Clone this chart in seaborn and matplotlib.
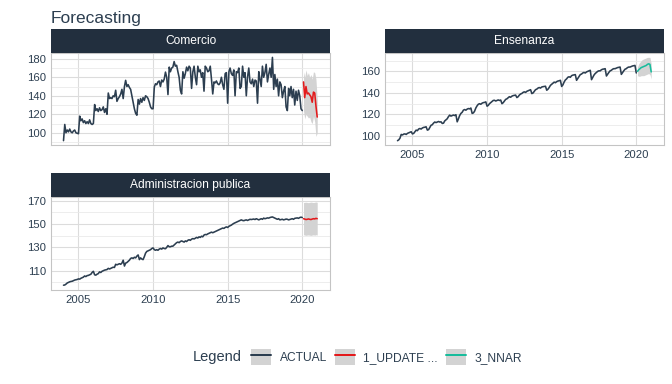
import numpy as np
import pandas as pd
import seaborn as sns
import matplotlib.pyplot as plt
import matplotlib.dates as mdates
from matplotlib.patches import Rectangle
from matplotlib.lines import Line2D
from matplotlib.legend_handler import HandlerTuple

# monthly actuals 2004-01 .. 2020-01
comercio_actual = [
    91.5, 109, 100, 103, 101, 104, 101, 100, 102, 103, 100, 99.5,
    99, 118, 113, 115, 111, 113, 110, 112, 110, 114, 110, 109,
    110, 130.5, 124, 126, 123, 127, 124, 125, 128, 122, 126, 120,
    143, 137, 138, 137, 140, 139, 146, 134, 137, 139, 142, 147,
    137, 150, 156.7, 150, 152, 149, 147, 140, 133, 126, 121, 119,
    136, 131, 137, 133, 138, 135, 140, 139, 137, 133, 128, 126,
    126, 149.5, 153, 152, 155, 156, 150, 157, 155, 158, 165.6, 160,
    141.3, 171, 166, 170, 171, 177, 172, 173, 166, 160, 146, 142,
    166, 159, 164, 171, 167, 172, 170, 148, 166, 172, 160, 152,
    172, 166, 168, 160, 165, 145, 172, 170, 166, 167, 172, 158,
    142, 155, 154, 156, 153, 152, 154, 160, 152, 147, 164, 165,
    132, 166, 170, 164, 162, 168, 140, 166, 165, 170, 148, 150,
    172, 160, 165, 140, 160, 170, 155, 153, 158, 150, 157, 156,
    132, 166, 158, 150, 172, 160, 165, 174, 155, 163, 170, 160,
    181.5, 147, 163, 150, 158, 140, 155, 152, 138, 145, 150, 128,
    124, 148, 140, 150, 138, 147, 130, 145, 135, 146, 140, 126,
    124,
]
ensenanza_actual = [
    95.7, 96.5, 98, 101.5, 101, 101.8, 102, 101.5, 102.5, 103, 103.5, 104,
    102, 102.5, 104, 105.5, 105, 106.5, 107, 106.5, 107.5, 108, 108.2, 108.6,
    105.5, 106, 108, 110, 110.5, 112, 113, 112.5, 113, 113.5, 113, 113.2,
    111.7, 112, 114, 115, 116, 118, 119.4, 118.5, 119, 119.5, 119, 119.8,
    113.2, 116, 119, 121, 122, 124, 124.6, 124, 125, 125.5, 125.2, 126,
    121, 121.5, 123, 126, 128, 129.5, 130, 129.5, 130.5, 131, 131.2, 131.7,
    127.7, 128.5, 130, 131, 132, 133, 133.2, 132.5, 133, 133.5, 133, 133.4,
    130, 131, 132.5, 134, 134.5, 135.5, 136.5, 136, 137, 137.5, 137.8, 138,
    135.7, 136.5, 138, 139, 139.5, 140.5, 141, 140.5, 141.5, 142, 142.5, 143,
    139.4, 140, 141.5, 143, 143.5, 144.5, 145, 144.5, 145.5, 145.8, 146, 146.2,
    142.5, 143.5, 145, 147, 148, 149, 150, 149.5, 150.5, 151, 151.3, 151.7,
    146, 147.5, 150, 152, 153, 154.5, 155, 154.5, 156, 156.5, 156.8, 157,
    151.7, 153.5, 155, 157, 157.5, 158.5, 159, 158.5, 159.5, 160, 160.5, 161,
    152.3, 154.5, 156.5, 158, 159, 160, 160.5, 160.5, 161.5, 162, 162.2, 162.5,
    155.7, 157.5, 159, 160.5, 161, 162, 162.5, 162.5, 163, 163.5, 163.8, 164,
    157.2, 159, 160.5, 162, 162.5, 163.5, 164, 164, 164.5, 165, 165.3, 165.5,
    158.5,
]
admin_actual = [
    97.6, 97.8, 98.5, 99.5, 100, 100.5, 100.8, 101, 101.5, 102, 102.3, 102.5,
    103, 102.8, 103.5, 104, 104.5, 105.5, 105, 105.8, 106, 106.5, 107, 108.5,
    109.5, 106.5, 106.2, 107, 107.5, 109, 108.5, 109.5, 110, 110.5, 110.8, 111,
    112, 111.5, 112, 112.5, 113, 112.8, 115.5, 115, 115.5, 116, 115.5, 116.5,
    119, 114, 116.5, 117, 118, 119, 120.5, 121, 120.5, 121.5, 121, 122.5,
    123.5, 119.5, 121, 120, 119.5, 122, 125, 126.5, 127, 127.5, 128, 129,
    129.5, 128, 127.5, 128, 127.5, 128.5, 129, 128.5, 129.5, 129, 128.8, 130,
    131.5, 130.5, 130.5, 131, 131, 132, 133, 134, 134.5, 134, 135, 135.5,
    135, 134.5, 135.5, 135, 136, 136.5, 136, 137, 137.5, 137.2, 137.8, 138.5,
    138, 139, 138.5, 139.5, 139, 140.5, 141, 140.8, 141.5, 142, 142.5, 143,
    142.5, 143, 143.5, 144, 144.5, 145, 145.5, 146, 146.5, 146.2, 147, 147.5,
    147, 148, 148.5, 149, 149.8, 150.5, 151, 151.5, 152, 152.5, 153, 153.5,
    153, 152.8, 153.2, 153.5, 153, 153.5, 154, 153.8, 154, 154.2, 153.8, 154.5,
    154, 153.5, 154, 154.5, 154, 155, 154.5, 154.8, 155.2, 155, 155.5, 155.8,
    156, 155.5, 155, 154.5, 154, 154.5, 153.5, 153.8, 154, 153.5, 153.8, 154.2,
    154, 153.5, 153.8, 154.2, 154.5, 154, 154.8, 155, 155.2, 154.8, 155.5, 155.8,
    155.5,
]

# forecasts 2020-02 .. 2021-01
comercio_fc = [155, 138, 150, 142, 143, 141, 139, 133, 144, 143, 129, 117]
comercio_lo = [124, 115, 120, 118, 116, 117, 112, 110, 118, 112, 96, 100]
comercio_hi = [166, 160, 168, 162, 165, 160, 163, 158, 166, 165, 158, 136]
ensenanza_fc = [160, 161.5, 162.5, 163.5, 164, 164.5, 165, 165.5, 166.5, 167, 166.5, 159.5]
ensenanza_lo = [156, 155.5, 155.5, 156, 156, 156, 156.5, 157, 157.5, 158, 157, 153]
ensenanza_hi = [164, 167, 168.5, 170, 171, 171.5, 172, 172.5, 173, 173, 173, 167]
admin_fc = [154.5, 154.2, 153.8, 154, 154.3, 154, 153.8, 154.2, 154.5, 154.3, 154.8, 154.5]
admin_lo = [140.8, 140.5, 140.3, 140.5, 140.6, 140.4, 140.2, 140.5, 140.7, 140.4, 140.8, 140.5]
admin_hi = [168.3, 168.5, 168.6, 168.4, 168.2, 168.5, 168.7, 168.5, 168.3, 168.6, 168.8, 168.5]

keys = ["ACTUAL", "1_UPDATE ...", "3_NNAR"]
colors = ["#2c3e50", "#e31a1c", "#18bc9c"]
pal = dict(zip(keys, colors))

dates_actual = pd.date_range("2004-01-01", "2020-01-01", freq="MS")
dates_fc = pd.date_range("2020-02-01", "2021-01-01", freq="MS")

panels = [
    ("Comercio", comercio_actual, comercio_fc, comercio_lo, comercio_hi, "1_UPDATE ...",
     (51, 29, 330, 145), (86.8, 186.8), [100, 120, 140, 160, 180], [90, 110, 130, 150, 170], False),
    ("Ensenanza", ensenanza_actual, ensenanza_fc, ensenanza_lo, ensenanza_hi, "3_NNAR",
     (385, 29, 664, 145), (91.7, 177.5), [100, 120, 140, 160], [110, 130, 150, 170], True),
    ("Administracion publica", admin_actual, admin_fc, admin_lo, admin_hi, "1_UPDATE ...",
     (51, 173, 330, 290), (93.5, 173.5), [110, 130, 150, 170], [100, 120, 140, 160], True),
]

sns.set_theme(style="white")
plt.rcParams['font.family'] = ['Liberation Sans', 'DejaVu Sans']
txt = "#2c3e50"

W, H = 672, 384
fig = plt.figure(figsize=(W / 96, H / 96), dpi=96)
strip_h = 23.5


def rect(l, t, r, b):
    return [l / W, 1 - b / H, (r - l) / W, (b - t) / H]


for name, act, fc, lo, hi, fkey, (l, t, r, b), ylim, yt, ymt, showx in panels:
    ax = fig.add_axes(rect(l, t + strip_h, r, b))
    df = pd.concat([
        pd.DataFrame({"date": dates_actual, "value": act, "key": "ACTUAL"}),
        pd.DataFrame({"date": dates_fc, "value": fc, "key": fkey}),
    ])
    ax.fill_between(dates_fc, lo, hi, color="#d3d3d3", lw=0, zorder=1)
    sns.lineplot(data=df, x="date", y="value", hue="key", palette=pal, ax=ax,
                 legend=False, linewidth=1.2, errorbar=None, zorder=3)
    ax.set_xlim(pd.Timestamp("2003-03-01"), pd.Timestamp("2021-11-10"))
    ax.set_ylim(*ylim)
    ax.set_yticks(yt)
    ax.set_yticks(ymt, minor=True)
    ax.set_xticks([pd.Timestamp(f"{y}-01-01") for y in (2005, 2010, 2015, 2020)])
    ax.xaxis.set_major_formatter(mdates.DateFormatter("%Y"))
    ax.grid(True, which="major", color="#dcdcdc", lw=0.8)
    ax.grid(True, which="minor", axis="y", color="#e9e9e9", lw=0.6)
    ax.set_axisbelow(True)
    ax.set_xlabel("")
    ax.set_ylabel("")
    ax.tick_params(length=0, labelsize=8.4, colors=txt, pad=3.5, which="both")
    if not showx:
        ax.tick_params(labelbottom=False)
    for s in ax.spines.values():
        s.set_color("#c4c4c4")
        s.set_linewidth(0.8)
    # strip
    sax = fig.add_axes(rect(l, t, r, t + strip_h))
    sax.set_facecolor("#222f3e")
    sax.set_xticks([])
    sax.set_yticks([])
    for s in sax.spines.values():
        s.set_visible(False)
    sax.text(0.5, 0.5, name, color="white", fontsize=9, ha="center", va="center",
             transform=sax.transAxes)

fig.text(51 / W, 1 - 23 / H, "Forecasting", fontsize=13, color=txt, ha="left", va="baseline")

fig.text(193 / W, 1 - 357 / H, "Legend", fontsize=11, color=txt, ha="left", va="center")
handles = [(Rectangle((0, 0), 1, 1, fc="#d3d3d3", ec="none"), Line2D([], [], color=c, lw=1.5))
           for c in colors]
leg = fig.legend(handles, keys, handler_map={tuple: HandlerTuple(ndivide=1)},
                 loc="center left", bbox_to_anchor=(251 / W, 1 - 357 / H), ncol=3,
                 frameon=False, fontsize=9, handlelength=1.67, handleheight=1.67,
                 handletextpad=0.72, columnspacing=0.65, borderaxespad=0, borderpad=0)
for tx in leg.get_texts():
    tx.set_color(txt)

fig.savefig("out.png", dpi=96, facecolor="white")
